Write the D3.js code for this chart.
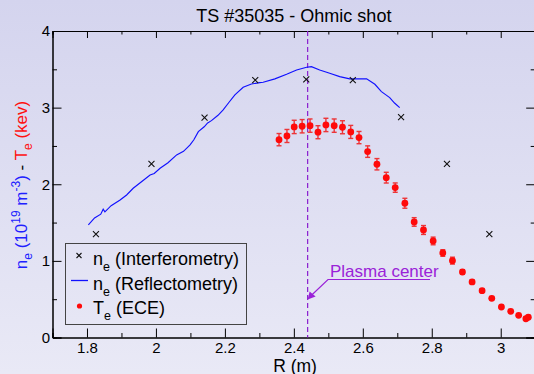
<!DOCTYPE html>
<html>
<head>
<meta charset="utf-8">
<script src="https://cdn.jsdelivr.net/npm/d3@7"></script>
<style>
  body { margin: 0; }
  svg { display: block; font-family: "Liberation Sans", Arial, sans-serif; }
</style>
</head>
<body>
<div id="chart"></div>
<script>
// interferometry density (crosses)
var interfR  = [1.826, 1.987, 2.141, 2.288, 2.436, 2.571, 2.711, 2.844, 2.967];
var interfNe = [1.35, 2.265, 2.87, 3.36, 3.37, 3.36, 2.875, 2.265, 1.35];

// reflectometry density profile (blue line)
var reflR  = [1.804, 1.822, 1.840, 1.847, 1.852, 1.870, 1.896, 1.915, 1.934, 1.960, 1.983, 1.995, 2.012, 2.035,
              2.060, 2.080, 2.099, 2.110, 2.123, 2.140, 2.150, 2.161, 2.180, 2.195, 2.212, 2.229, 2.253, 2.277,
              2.301, 2.311, 2.345, 2.379, 2.408, 2.437, 2.451, 2.475, 2.504, 2.533, 2.562, 2.591, 2.611,
              2.635, 2.654, 2.666, 2.678, 2.692, 2.707];
var reflNe = [1.469, 1.56, 1.61, 1.675, 1.64, 1.72, 1.795, 1.86, 1.948, 2.04, 2.121, 2.14, 2.209, 2.28,
              2.383, 2.43, 2.513, 2.58, 2.687, 2.75, 2.80, 2.83, 2.90, 2.970, 3.07, 3.166, 3.266, 3.309,
              3.326, 3.331, 3.375, 3.436, 3.492, 3.527, 3.535, 3.492, 3.449, 3.405, 3.375, 3.375, 3.375,
              3.305, 3.209, 3.17, 3.131, 3.06, 3.0];

// ECE electron temperature with error bars
var eceR   = [2.357, 2.380, 2.401, 2.424, 2.447, 2.470, 2.493, 2.517, 2.541, 2.565, 2.589, 2.614, 2.641, 2.668, 2.694,
              2.722, 2.749, 2.776, 2.804, 2.832, 2.860, 2.889, 2.917, 2.946, 2.974, 3.002, 3.029, 3.052, 3.073, 3.080];
var eceTe  = [2.582, 2.630, 2.748, 2.757, 2.765, 2.679, 2.774, 2.765, 2.744, 2.683, 2.609, 2.426, 2.261, 2.086, 1.956,
              1.752, 1.508, 1.403, 1.260, 1.103, 1.003, 0.855, 0.725, 0.611, 0.511, 0.398, 0.342, 0.290, 0.245, 0.264];
var eceErr = [0.08, 0.085, 0.087, 0.087, 0.087, 0.085, 0.087, 0.087, 0.085, 0.085, 0.08, 0.075, 0.074, 0.07, 0.061,
              0.065, 0.056, 0.058, 0.05, 0.043, 0.045, 0.03, 0.025, 0.02, 0.02, 0.015, 0.015, 0.01, 0.01, 0.01];

var xMajor = [1.8, 2, 2.2, 2.4, 2.6, 2.8, 3];
var xMinor = [1.7, 1.9, 2.1, 2.3, 2.5, 2.7, 2.9, 3.1];
var yMajor = [0, 1, 2, 3, 4];
var yMinor = [0.5, 1.5, 2.5, 3.5];

var plasmaCenter = 2.44;

var width = 534, height = 374;
var margin = {top: 31, left: 52.5, bottom: 36.5};

var x = d3.scaleLinear().domain([1.7, 3.1]).range([margin.left, 535.2]);
var y = d3.scaleLinear().domain([0, 4]).range([height - margin.bottom, margin.top]);

var svg = d3.select("#chart").append("svg")
    .attr("width", width)
    .attr("height", height);

// background gradient
var grad = svg.append("defs").append("linearGradient")
    .attr("id", "bg").attr("x1", 0).attr("y1", 0).attr("x2", 0).attr("y2", 1);
grad.append("stop").attr("offset", "0%").attr("stop-color", "#d4d4ee");
grad.append("stop").attr("offset", "100%").attr("stop-color", "#e9e9f6");
svg.append("rect").attr("width", width).attr("height", height).attr("fill", "url(#bg)");

// title
svg.append("text")
    .attr("x", (x.range()[0] + x.range()[1]) / 2)
    .attr("y", 21.5)
    .attr("text-anchor", "middle")
    .style("font-size", "18px")
    .text("TS #35035 - Ohmic shot");

// axes, ticks pointing inward
function styleAxis(g) {
  g.selectAll("path.domain").attr("stroke", "#000");
  g.selectAll(".tick line").attr("stroke", "#000");
  g.selectAll(".tick text").style("font-size", "15px").attr("fill", "#000").style("font-family", "Liberation Sans, Arial, sans-serif");
}
var y0 = y(0), y4 = y(4), x0 = x.range()[0], x1 = x.range()[1];

svg.append("g").attr("transform", "translate(0," + y0 + ")")
    .call(d3.axisBottom(x).tickValues(xMajor).tickSize(-9).tickPadding(5).tickFormat(d3.format("")))
    .call(styleAxis);
svg.append("g").attr("transform", "translate(0," + y0 + ")")
    .call(d3.axisBottom(x).tickValues(xMinor).tickSize(-4.5).tickFormat(""))
    .call(styleAxis);
svg.append("g").attr("transform", "translate(0," + y4 + ")")
    .call(d3.axisTop(x).tickValues(xMajor).tickSize(-7).tickFormat(""))
    .call(styleAxis);
svg.append("g").attr("transform", "translate(0," + y4 + ")")
    .call(d3.axisTop(x).tickValues(xMinor).tickSize(-3.5).tickFormat(""))
    .call(styleAxis);
svg.append("g").attr("transform", "translate(" + x0 + ",0)")
    .call(d3.axisLeft(y).tickValues(yMajor).tickSize(-9).tickPadding(2.5).tickFormat(d3.format("d")))
    .call(styleAxis);
svg.append("g").attr("transform", "translate(" + x0 + ",0)")
    .call(d3.axisLeft(y).tickValues(yMinor).tickSize(-4.5).tickFormat(""))
    .call(styleAxis);
svg.append("g").attr("transform", "translate(" + x1 + ",0)")
    .call(d3.axisRight(y).tickValues(yMajor).tickSize(-9).tickFormat(""))
    .call(styleAxis);
svg.append("g").attr("transform", "translate(" + x1 + ",0)")
    .call(d3.axisRight(y).tickValues(yMinor).tickSize(-4.5).tickFormat(""))
    .call(styleAxis);

// x label
svg.append("text")
    .attr("x", 295).attr("y", 371.5)
    .attr("text-anchor", "middle")
    .style("font-size", "17.5px")
    .text("R (m)");

// y label, blue density part and red temperature part
var ylab = svg.append("text")
    .attr("transform", "translate(27,185) rotate(-90)")
    .attr("text-anchor", "middle")
    .style("font-size", "17px");
ylab.append("tspan").attr("fill", "#2020ff").text("n");
ylab.append("tspan").attr("fill", "#2020ff").attr("dy", 5).style("font-size", "12px").text("e");
ylab.append("tspan").attr("fill", "#2020ff").attr("dy", -5).text(" (10");
ylab.append("tspan").attr("fill", "#2020ff").attr("dy", -7).style("font-size", "12px").text("19");
ylab.append("tspan").attr("fill", "#2020ff").attr("dy", 7).text(" m");
ylab.append("tspan").attr("fill", "#2020ff").attr("dy", -7).style("font-size", "12px").text("-3");
ylab.append("tspan").attr("fill", "#2020ff").attr("dy", 7).text(")");
ylab.append("tspan").attr("fill", "#000").text(" - ");
ylab.append("tspan").attr("fill", "#ff1010").text("T");
ylab.append("tspan").attr("fill", "#ff1010").attr("dy", 5).style("font-size", "12px").text("e");
ylab.append("tspan").attr("fill", "#ff1010").attr("dy", -5).text(" (kev)");

// plasma center dashed line
svg.append("line")
    .attr("x1", x(plasmaCenter)).attr("x2", x(plasmaCenter))
    .attr("y1", y4).attr("y2", y0)
    .attr("stroke", "#8a1fd0").attr("stroke-width", 1.2)
    .attr("stroke-dasharray", "5,3");

// reflectometry line
var line = d3.line()
    .x(function(d) { return x(d[0]); })
    .y(function(d) { return y(d[1]); });
svg.append("path")
    .datum(d3.zip(reflR, reflNe))
    .attr("d", line)
    .attr("fill", "none")
    .attr("stroke", "#1010ff")
    .attr("stroke-width", 1.15);

// interferometry crosses
function cross(g, cx, cy, s) {
  g.append("path")
      .attr("d", "M" + (cx - s) + "," + (cy - s) + "L" + (cx + s) + "," + (cy + s) +
                 "M" + (cx - s) + "," + (cy + s) + "L" + (cx + s) + "," + (cy - s))
      .attr("stroke", "#111").attr("stroke-width", 1.1);
}
var crosses = svg.append("g");
d3.zip(interfR, interfNe).forEach(function(d) { cross(crosses, x(d[0]), y(d[1]), 3); });

// ECE points with error bars
var ece = d3.zip(eceR, eceTe, eceErr);
var bars = svg.append("g").attr("stroke", "#f01818").attr("stroke-width", 1.4).attr("opacity", 0.85);
ece.forEach(function(d) {
  var cx = x(d[0]), top = y(d[1] + d[2]), bot = y(d[1] - d[2]);
  bars.append("line").attr("x1", cx).attr("x2", cx).attr("y1", top).attr("y2", bot);
  bars.append("line").attr("x1", cx - 2.5).attr("x2", cx + 2.5).attr("y1", top).attr("y2", top);
  bars.append("line").attr("x1", cx - 2.5).attr("x2", cx + 2.5).attr("y1", bot).attr("y2", bot);
});
svg.append("g").selectAll("circle")
    .data(ece)
  .enter().append("circle")
    .attr("cx", function(d) { return x(d[0]); })
    .attr("cy", function(d) { return y(d[1]); })
    .attr("r", 3.4)
    .attr("fill", "#ff0a0a");

// plasma center annotation
var purple = "#9a22d8";
svg.append("text")
    .attr("x", 330).attr("y", 276.5)
    .attr("fill", purple)
    .style("font-size", "17px")
    .text("Plasma center");
svg.append("path")
    .attr("d", "M430,279.5L328,279.5L" + (x(plasmaCenter) + 2) + ",297")
    .attr("fill", "none").attr("stroke", purple).attr("stroke-width", 1.2);
svg.append("path")
    .attr("d", "M" + (x(plasmaCenter)) + ",299.5l2,-8l6,5z")
    .attr("fill", purple);

// legend
var legend = svg.append("g");
legend.append("rect")
    .attr("x", 65.5).attr("y", 243.5).attr("width", 181).attr("height", 81)
    .attr("fill", "none").attr("stroke", "#444").attr("stroke-width", 1);
cross(legend, 79, 255.5, 2.5);
legend.append("line").attr("x1", 71).attr("x2", 88).attr("y1", 280.5).attr("y2", 280.5)
    .attr("stroke", "#1010ff").attr("stroke-width", 1.3);
legend.append("circle").attr("cx", 79.5).attr("cy", 306).attr("r", 2.6).attr("fill", "#ff0a0a");

var legendRows = [["n", " (Interferometry)", 264.5], ["n", " (Reflectometry)", 289.5], ["T", " (ECE)", 313.5]];
legendRows.forEach(function(r) {
  var t = legend.append("text").attr("x", 93).attr("y", r[2]).style("font-size", "18px").attr("fill", "#000");
  t.append("tspan").text(r[0]);
  t.append("tspan").attr("dy", 6).style("font-size", "12.5px").text("e");
  t.append("tspan").attr("dy", -6).text(r[1]);
});
</script>
</body>
</html>
